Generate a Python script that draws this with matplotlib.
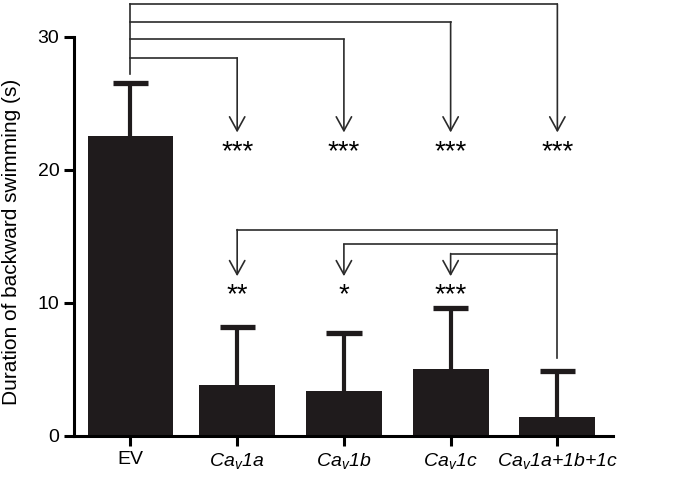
import numpy as np
import matplotlib.pyplot as plt

plt.rcParams['font.family'] = ['Liberation Sans', 'DejaVu Sans']
plt.rcParams['mathtext.fontset'] = 'custom'
plt.rcParams['mathtext.rm'] = 'Liberation Sans:italic'
plt.rcParams['mathtext.it'] = 'Liberation Sans:italic'

# data
labels = ['EV', 'Ca$_v$1a', 'Ca$_v$1b', 'Ca$_v$1c', 'Ca$_v$1a+1b+1c']
means = [22.5, 3.8, 3.35, 5.0, 1.45]
errs = [4.0, 4.4, 4.35, 4.6, 3.4]

# EV vs each group
top_targets = [1, 2, 3, 4]
top_levels = [28.4, 29.8, 31.1, 32.45]
top_stars = ['***', '***', '***', '***']

# combined vs single channels
low_targets = [1, 2, 3]
low_levels = [15.5, 14.4, 13.7]
low_stars = ['**', '*', '***']

x = np.arange(len(labels))
fig = plt.figure(figsize=(6.84, 4.78), dpi=100)
ax = fig.add_axes([0.108, 0.088, 0.788, 0.912])

bc = '#1f1b1c'
widths = [0.79, 0.71, 0.71, 0.71, 0.71]
ax.bar(x, means, width=widths, color=bc, zorder=2)
tops = np.array(means) + np.array(errs)
ax.vlines(x, means, tops, color=bc, lw=3, zorder=1)
ax.hlines(tops, x - 0.165, x + 0.165, color=bc, lw=3.8, zorder=1)

lc = '#2b2b2b'
arrow = dict(arrowstyle='->,head_length=1.0,head_width=0.55', lw=1.2, color=lc,
             shrinkA=0, shrinkB=0)

# top brackets from EV
ax.plot([0, 0], [tops[0] + 0.7, max(top_levels)], color=lc, lw=1.2,
        clip_on=False)
for t, h, s in zip(top_targets, top_levels, top_stars):
    ax.plot([0, t], [h, h], color=lc, lw=1.2, clip_on=False)
    ax.annotate('', xy=(t, 22.8), xytext=(t, h), arrowprops=arrow,
                annotation_clip=False)
    ax.text(t, 21.3, s, ha='center', va='center', fontsize=20)

# lower brackets from the combined group
src = 4
ax.plot([src, src], [tops[src] + 1.0, max(low_levels)], color=lc, lw=1.2)
for t, h, s in zip(low_targets, low_levels, low_stars):
    ax.plot([t, src], [h, h], color=lc, lw=1.2)
    ax.annotate('', xy=(t, 12.0), xytext=(t, h), arrowprops=arrow)
    ax.text(t, 10.6, s, ha='center', va='center', fontsize=20)

ax.set_xlim(-0.53, 4.52)
ax.set_ylim(0, 32.75)
ax.spines['top'].set_visible(False)
ax.spines['right'].set_visible(False)
ax.spines['left'].set_bounds(0, 30)
ax.spines['left'].set_linewidth(2.2)
ax.spines['bottom'].set_linewidth(2.2)
ax.set_yticks([0, 10, 20, 30])
ax.set_xticks(x)
ax.set_xticklabels(labels)
for lab in ax.get_xticklabels()[1:]:
    lab.set_fontstyle('italic')
ax.tick_params(axis='both', width=2.2, length=7, labelsize=14)
ax.set_ylabel('Duration of backward swimming (s)', fontsize=15)
ax.yaxis.set_label_coords(-0.099, 0.445)

fig.savefig('out.png', dpi=100)
